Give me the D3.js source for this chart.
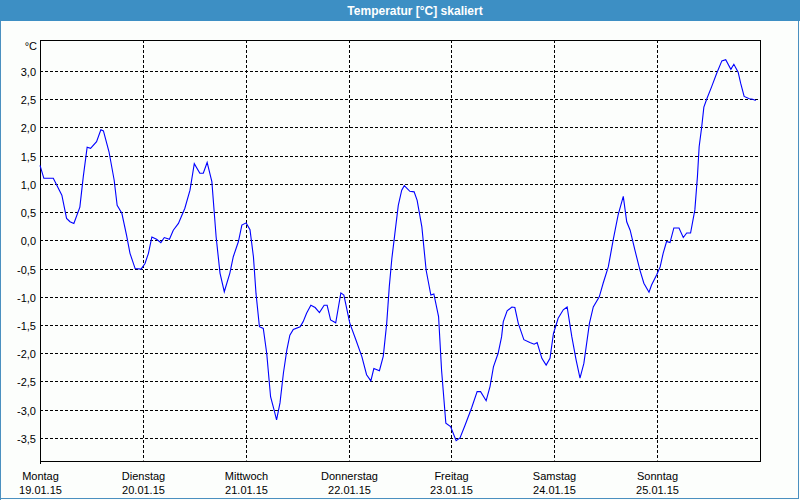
<!DOCTYPE html>
<html><head><meta charset="utf-8">
<script src="https://cdn.jsdelivr.net/npm/d3@7"></script>
<style>
html,body{margin:0;padding:0;background:#fcfefc;}
svg{display:block;}
text{font-family:"Liberation Sans",Arial,sans-serif;}
</style></head>
<body><svg id="c" width="800" height="500"></svg>
<script>
const title = "Temperatur [°C] skaliert";
const unitLabel = "°C";
const dayNames = ["Montag","Dienstag","Mittwoch","Donnerstag","Freitag","Samstag","Sonntag"];
const dayDates = ["19.01.15","20.01.15","21.01.15","22.01.15","23.01.15","24.01.15","25.01.15"];
const yTicks = [3.0,2.5,2.0,1.5,1.0,0.5,0.0,-0.5,-1.0,-1.5,-2.0,-2.5,-3.0,-3.5];
// hours since 19.01.15 00:00
const hours = [0.0,0.9,3.1,5.1,6.2,7.0,7.9,9.3,10.1,11.0,11.8,13.2,14.2,14.8,16.1,17.3,18.0,19.1,20.2,21.0,22.2,23.6,24.5,25.3,26.1,27.2,28.2,29.0,30.2,31.1,32.3,33.8,35.0,36.0,37.3,38.1,39.0,40.1,41.1,42.0,43.0,44.3,45.1,46.3,47.1,48.1,49.0,49.8,50.4,51.2,52.1,52.9,53.8,54.6,55.2,56.0,56.8,57.6,58.3,59.1,60.7,61.4,62.2,63.2,64.2,65.2,66.3,67.0,67.8,69.0,70.2,70.9,72.3,73.7,75.1,76.2,77.2,77.9,79.2,80.1,80.9,81.5,82.1,82.8,83.6,84.4,85.0,86.3,87.3,88.0,89.1,90.1,91.2,91.9,93.0,93.7,94.7,95.8,97.1,98.0,99.2,100.7,102.0,102.8,104.1,105.0,105.8,106.9,107.7,108.1,109.0,110.1,110.8,111.6,112.9,114.3,115.3,116.0,117.1,118.1,119.0,119.8,120.9,122.1,123.0,124.1,125.1,126.0,126.9,128.2,129.1,130.5,131.4,132.6,133.8,134.9,136.1,136.9,137.7,138.8,140.0,140.9,142.1,142.7,143.9,144.7,145.4,146.2,147.0,147.9,149.1,150.1,150.9,151.8,152.8,153.4,153.8,154.4,154.9,155.6,156.7,157.9,159.1,160.0,161.2,161.9,162.9,163.5,164.3,165.5,166.3,167.0];
const temps = [1.33,1.10,1.10,0.80,0.39,0.33,0.30,0.59,1.13,1.65,1.63,1.75,1.96,1.94,1.57,1.07,0.62,0.48,0.09,-0.23,-0.50,-0.51,-0.41,-0.23,0.06,0.02,-0.04,0.05,0.02,0.18,0.30,0.57,0.89,1.36,1.19,1.19,1.38,1.04,0.06,-0.58,-0.91,-0.58,-0.29,-0.02,0.27,0.31,0.19,-0.29,-0.94,-1.53,-1.56,-2.00,-2.77,-3.00,-3.18,-2.88,-2.35,-1.94,-1.68,-1.58,-1.53,-1.44,-1.29,-1.15,-1.19,-1.28,-1.15,-1.15,-1.41,-1.46,-0.93,-0.97,-1.47,-1.76,-2.06,-2.38,-2.49,-2.27,-2.31,-2.05,-1.47,-0.82,-0.32,0.12,0.62,0.89,0.97,0.87,0.86,0.71,0.24,-0.53,-0.97,-0.95,-1.35,-2.30,-3.24,-3.30,-3.55,-3.50,-3.27,-2.97,-2.68,-2.68,-2.84,-2.59,-2.24,-2.00,-1.71,-1.44,-1.25,-1.18,-1.19,-1.47,-1.76,-1.81,-1.84,-1.81,-2.09,-2.21,-2.09,-1.65,-1.38,-1.23,-1.18,-1.71,-2.12,-2.44,-2.18,-1.47,-1.18,-1.00,-0.76,-0.47,0.03,0.45,0.78,0.33,0.18,-0.17,-0.53,-0.76,-0.92,-0.79,-0.61,-0.47,-0.23,-0.02,-0.04,0.22,0.22,0.05,0.13,0.13,0.54,1.13,1.66,2.01,2.36,2.51,2.72,2.96,3.18,3.20,3.03,3.12,2.98,2.78,2.55,2.51,2.50,2.48];

const svg = d3.select("#c");
const start = new Date(2015,0,19,0,0);
const end = new Date(2015,0,26,0,0);
const L=40, R=760, T=40, B=460.5;
const x = d3.scaleTime().domain([start,end]).range([L,R]);
const y = d3.scaleLinear().domain([-3.9,3.55]).range([B,T]);
const days = dayNames.map((n,i)=>d3.timeDay.offset(start,i));
const px = v => Math.round(v)+0.5;

// title bar
svg.append("rect").attr("x",0).attr("y",0).attr("width",800).attr("height",21).attr("fill","#3d8fc4");
svg.append("text").attr("x",415).attr("y",15).attr("text-anchor","middle").attr("fill","#ffffff")
  .attr("font-weight","bold").attr("font-size","12px").text(title);
// window border
svg.append("line").attr("x1",0.5).attr("x2",0.5).attr("y1",21).attr("y2",500).attr("stroke","#4a90c0");
svg.append("line").attr("x1",798.5).attr("x2",798.5).attr("y1",21).attr("y2",499).attr("stroke","#4a90c0");
svg.append("line").attr("x1",0).attr("x2",799).attr("y1",498.5).attr("y2",498.5).attr("stroke","#4a90c0");

// grid
const g = svg.append("g");
g.selectAll("line.h").data(yTicks).join("line").attr("class","h")
  .attr("x1",L).attr("x2",R).attr("y1",d=>px(y(d))).attr("y2",d=>px(y(d)))
  .attr("stroke","#000").attr("stroke-dasharray","3,2");
g.selectAll("line.v").data(days.slice(1)).join("line").attr("class","v")
  .attr("x1",d=>px(x(d))).attr("x2",d=>px(x(d))).attr("y1",T).attr("y2",B)
  .attr("stroke","#000").attr("stroke-dasharray","3,2");

// frame
svg.append("rect").attr("x",L+0.5).attr("y",T+0.5).attr("width",R-L).attr("height",Math.round(B)-T)
  .attr("fill","none").attr("stroke","#000");
svg.append("line").attr("x1",L+0.5).attr("x2",L+0.5).attr("y1",T).attr("y2",464).attr("stroke","#000");

// y labels
svg.selectAll("text.yl").data(yTicks).join("text").attr("class","yl")
  .attr("x",36).attr("y",d=>px(y(d))+4).attr("text-anchor","end").attr("font-size","11px").attr("fill","#000")
  .text(d=>d3.format(".1f")(d).replace(".",",").replace("−","-"));
svg.append("text").attr("x",37).attr("y",50).attr("text-anchor","end").attr("font-size","11px").text(unitLabel);

// x labels
const xl = svg.selectAll("g.xl").data(days).join("g").attr("class","xl")
  .attr("transform",d=>`translate(${px(x(d))},0)`);
xl.append("text").attr("y",480).attr("text-anchor","middle").attr("font-size","11px").text((d,i)=>dayNames[i]);
xl.append("text").attr("y",494).attr("text-anchor","middle").attr("font-size","11px").text((d,i)=>dayDates[i]);

// line
const data = hours.map((h,i)=>({t:new Date(start.getTime()+h*3600000), v:temps[i]}));
svg.append("path").datum(data)
  .attr("d", d3.line().x(d=>x(d.t)).y(d=>y(d.v)))
  .attr("fill","none").attr("stroke","#0000ff").attr("stroke-width",1.1);
</script></body></html>
